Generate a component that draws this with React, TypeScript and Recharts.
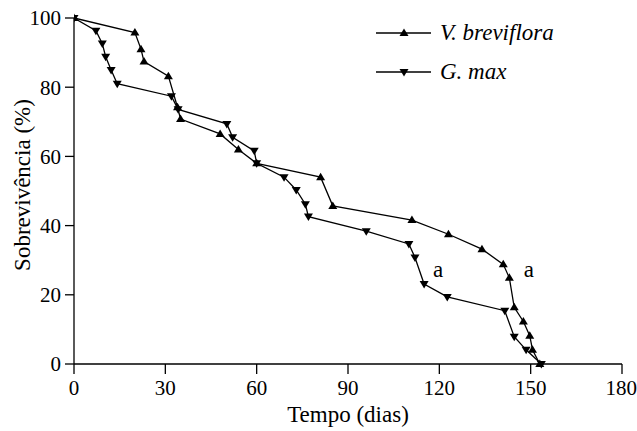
import { Line, LineChart, ReferenceDot, XAxis, YAxis } from "recharts"

// dias, sobrevivência (%)
const breviflora = [
  { dia: 0, valor: 100 },
  { dia: 20, valor: 95.8 },
  { dia: 22, valor: 91 },
  { dia: 23, valor: 87.4 },
  { dia: 31, valor: 83.2 },
  { dia: 34, valor: 74.2 },
  { dia: 35, valor: 70.8 },
  { dia: 48, valor: 66.5 },
  { dia: 54, valor: 62 },
  { dia: 60, valor: 58 },
  { dia: 81, valor: 54 },
  { dia: 85, valor: 45.7 },
  { dia: 111, valor: 41.6 },
  { dia: 123, valor: 37.5 },
  { dia: 134, valor: 33.2 },
  { dia: 141, valor: 28.8 },
  { dia: 143, valor: 24.9 },
  { dia: 144.6, valor: 16.4 },
  { dia: 147.6, valor: 12.3 },
  { dia: 149.7, valor: 8.2 },
  { dia: 150.6, valor: 4.1 },
  { dia: 153, valor: 0 },
]

const gmax = [
  { dia: 0, valor: 100 },
  { dia: 7.2, valor: 96.3 },
  { dia: 9.3, valor: 92.6 },
  { dia: 10.4, valor: 88.8 },
  { dia: 12.2, valor: 85 },
  { dia: 14.2, valor: 81 },
  { dia: 32, valor: 77.4 },
  { dia: 34.2, valor: 73.6 },
  { dia: 50.2, valor: 69.4 },
  { dia: 52.1, valor: 65.5 },
  { dia: 59.2, valor: 61.6 },
  { dia: 60, valor: 58 },
  { dia: 69, valor: 54 },
  { dia: 73, valor: 50.3 },
  { dia: 76, valor: 46.2 },
  { dia: 77, valor: 42.6 },
  { dia: 96, valor: 38.4 },
  { dia: 110, valor: 34.7 },
  { dia: 112, valor: 30.8 },
  { dia: 115, valor: 23.1 },
  { dia: 122.6, valor: 19.4 },
  { dia: 141.5, valor: 15.4 },
  { dia: 144.6, valor: 7.9 },
  { dia: 148.5, valor: 4.1 },
  { dia: 153.5, valor: 0 },
]

const xTicks = [0, 30, 60, 90, 120, 150, 180]
const yTicks = [0, 20, 40, 60, 80, 100]

// letras de significância
const letras = [
  { dia: 119.6, valor: 27.6, texto: "a" },
  { dia: 149.4, valor: 27.6, texto: "a" },
]

const serif = "Liberation Serif, Times New Roman, DejaVu Serif, serif"

const triUp = (cx: number, cy: number) =>
  `M${cx},${cy - 4.5}L${cx + 4.5},${cy + 3}L${cx - 4.5},${cy + 3}Z`
const triDown = (cx: number, cy: number) =>
  `M${cx},${cy + 4.5}L${cx + 4.5},${cy - 3}L${cx - 4.5},${cy - 3}Z`

function UpDot(props: any) {
  const { cx, cy, index } = props
  if (cx == null || cy == null) return <g key={`u-${index}`} />
  return <path key={`u-${index}`} d={triUp(cx, cy)} fill="#000" />
}

function DownDot(props: any) {
  const { cx, cy, index } = props
  if (cx == null || cy == null) return <g key={`d-${index}`} />
  return <path key={`d-${index}`} d={triDown(cx, cy)} fill="#000" />
}

function YLabel(props: any) {
  const vb = props.viewBox || { x: 0, y: 18, width: 74, height: 346 }
  const x = 22
  const y = vb.y + vb.height / 2 - 6
  return (
    <text
      x={x}
      y={y}
      transform={`rotate(-90 ${x} ${y})`}
      textAnchor="middle"
      dominantBaseline="central"
      fill="#000"
      fontSize={23}
      fontFamily={serif}
    >
      {props.value}
    </text>
  )
}

function LegendBox() {
  const items = [
    { label: "V. breviflora", shape: triUp },
    { label: "G. max", shape: triDown },
  ]
  return (
    <div
      style={{
        position: "absolute",
        left: 376,
        top: 13,
        fontFamily: serif,
        fontSize: 23,
        fontStyle: "italic",
        color: "#000",
      }}
    >
      {items.map((item) => (
        <div key={item.label} style={{ display: "flex", alignItems: "center", height: 39.5 }}>
          <svg width={60} height={20} style={{ marginRight: 4 }}>
            <line x1={0} y1={10} x2={55} y2={10} stroke="#000" strokeWidth={1.3} />
            <path d={item.shape(28, 10)} fill="#000" />
          </svg>
          <span>{item.label}</span>
        </div>
      ))}
    </div>
  )
}

export default function App() {
  return (
    <div style={{ position: "absolute", left: 0, top: 0, width: 637, height: 431, background: "#fff", fontFamily: serif }}>
      <LineChart width={637} height={431} margin={{ top: 18, right: 15, bottom: 0, left: 0 }}>
        <XAxis
          type="number"
          dataKey="dia"
          domain={[0, 180]}
          ticks={xTicks}
          allowDataOverflow
          height={67}
          stroke="#000"
          strokeWidth={1.3}
          tickSize={10}
          tickMargin={6}
          tick={{ fill: "#000", fontSize: 21, fontFamily: serif }}
          label={{
            value: "Tempo (dias)",
            position: "insideBottom",
            offset: 9,
            fill: "#000",
            fontSize: 23,
            fontFamily: serif,
          }}
        />
        <YAxis
          type="number"
          dataKey="valor"
          domain={[0, 100]}
          ticks={yTicks}
          width={74}
          stroke="#000"
          strokeWidth={1.3}
          tickSize={9}
          tickMargin={4}
          tick={{ fill: "#000", fontSize: 21, fontFamily: serif }}
          label={{ value: "Sobrevivência (%)", content: YLabel }}
        />
        <Line
          data={breviflora}
          dataKey="valor"
          name="V. breviflora"
          stroke="#000"
          strokeWidth={1.3}
          dot={UpDot}
          activeDot={false}
          isAnimationActive={false}
        />
        <Line
          data={gmax}
          dataKey="valor"
          name="G. max"
          stroke="#000"
          strokeWidth={1.3}
          dot={DownDot}
          activeDot={false}
          isAnimationActive={false}
        />
        {letras.map((l, i) => (
          <ReferenceDot
            key={i}
            x={l.dia}
            y={l.valor}
            r={0}
            fill="none"
            stroke="none"
            label={{ value: l.texto, position: "center", fill: "#000", fontSize: 23, fontFamily: serif }}
          />
        ))}
      </LineChart>
      <LegendBox />
    </div>
  )
}
